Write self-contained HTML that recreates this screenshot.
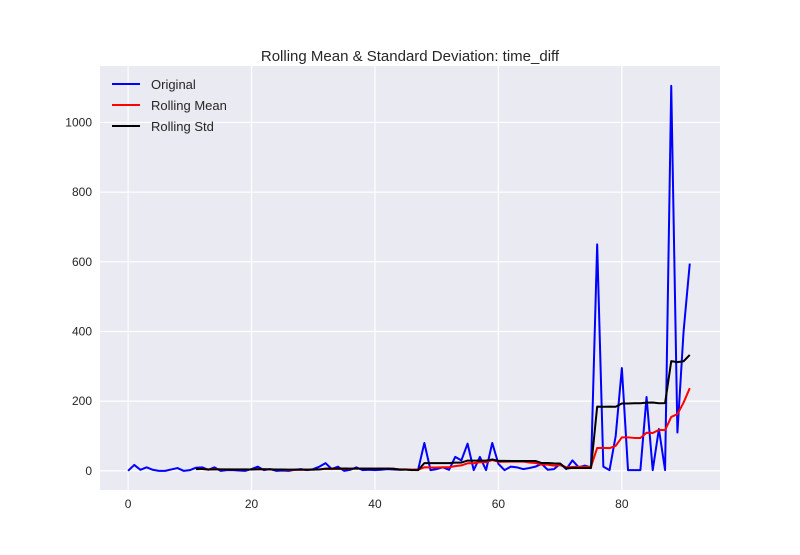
<!DOCTYPE html>
<html><head><meta charset="utf-8"><style>
body{margin:0;background:#fff;font-family:"Liberation Sans","DejaVu Sans",sans-serif}
svg text{font-family:"Liberation Sans","DejaVu Sans",sans-serif;fill:#262626}
</style></head><body>
<svg id="chart" width="800" height="550" viewBox="0 0 800 550">
<rect x="0" y="0" width="800" height="550" fill="#fff"/>
<rect x="100" y="66" width="620" height="424" fill="#eaeaf2"/>
<g id="grid"></g>
<g id="series"></g>
<g id="ticks"></g>
<text x="410" y="61" font-size="15" text-anchor="middle">Rolling Mean &amp; Standard Deviation: time_diff</text>
<g>
<line x1="112" y1="84" x2="140" y2="84" stroke="#0000ff" stroke-width="2"/>
<text x="151" y="89" font-size="13">Original</text>
<line x1="112" y1="105" x2="140" y2="105" stroke="#ff0000" stroke-width="2"/>
<text x="151" y="110" font-size="13">Rolling Mean</text>
<line x1="112" y1="126" x2="140" y2="126" stroke="#000" stroke-width="2"/>
<text x="151" y="131" font-size="13">Rolling Std</text>
</g>
</svg>
<script>
const original=[0,17,3,10,3,0,0,4,8,0,2,9,10,3,10,0,2,2,1,0,5,12,2,5,0,1,0,3,5,2,5,12,22,5,12,0,3,10,2,3,2,3,5,4,3,4,2,4,80,2,5,10,3,40,30,78,2,40,2,80,20,2,12,10,5,8,12,20,3,5,20,5,30,10,15,10,650,12,2,100,295,2,2,2,212,2,120,2,1105,110,400,595];
const xTicks=[0,20,40,60,80];
const yTicks=[0,200,400,600,800,1000];
const windowSize=12;
const X0=100,X1=720,Y0=490,Y1=66;
const xmin=-4.55,xmax=95.9,ymin=-55,ymax=1162;
const sx=v=>X0+(v-xmin)/(xmax-xmin)*(X1-X0);
const sy=v=>Y0-(v-ymin)/(ymax-ymin)*(Y0-Y1);
const NS='http://www.w3.org/2000/svg';
function mk(t,p,parent){const e=document.createElementNS(NS,t);for(const k in p)e.setAttribute(k,p[k]);parent.appendChild(e);return e;}
const grid=document.getElementById('grid'),ticks=document.getElementById('ticks'),ser=document.getElementById('series');
xTicks.forEach(v=>{const l=mk('line',{x1:sx(v),x2:sx(v),y1:Y1,y2:Y0,stroke:'#fff','stroke-width':1.2},grid);

const t=mk('text',{x:sx(v),y:Y0+18,'font-size':12,'text-anchor':'middle'},ticks);t.textContent=v;
});
yTicks.forEach(v=>{const l=mk('line',{x1:X0,x2:X1,y1:sy(v),y2:sy(v),stroke:'#fff','stroke-width':1.2},grid);

const t=mk('text',{x:X0-8,y:sy(v)+4,'font-size':12,'text-anchor':'end'},ticks);t.textContent=v;
});
const mean=[],std=[];
for(let i=0;i<original.length;i++){if(i<windowSize-1){mean.push(null);std.push(null);continue;}
const w=original.slice(i-windowSize+1,i+1);const m=w.reduce((a,b)=>a+b,0)/windowSize;
const s=Math.sqrt(w.reduce((a,b)=>a+(b-m)*(b-m),0)/(windowSize-1));mean.push(m);std.push(s);}
function line(arr,color,name){let d='';arr.forEach((v,i)=>{if(v===null)return;d+=(d?'L':'M')+sx(i).toFixed(2)+','+sy(v).toFixed(2);});
const p=mk('path',{d:d,fill:'none',stroke:color,'stroke-width':2,'stroke-linejoin':'round'},ser);
}
line(original,'#0000ff','original-line');
line(mean,'#ff0000','rolling-mean-line');
line(std,'#000000','rolling-std-line');
</script>
</body></html>
